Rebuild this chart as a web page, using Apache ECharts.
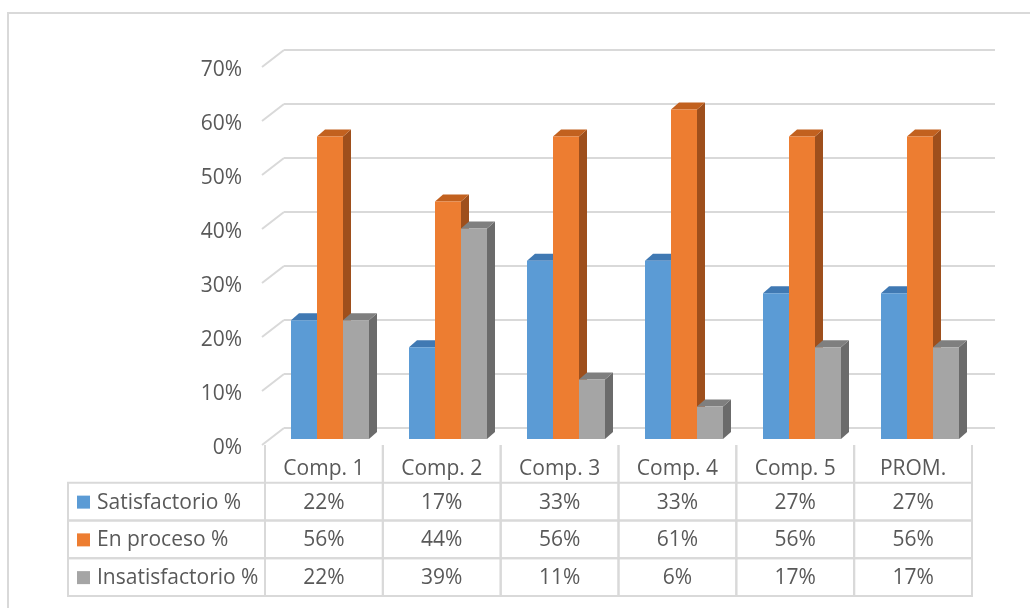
<!DOCTYPE html>
<html>
<head>
<meta charset="utf-8">
<script src="https://cdn.jsdelivr.net/npm/echarts@6/dist/echarts.min.js"></script>
<style>
  html, body { margin: 0; padding: 0; background: #fff; }
  #chart { width: 1030px; height: 608px; }
</style>
</head>
<body>
<div id="chart"></div>
<script>
// datos
const categories = ['Comp. 1', 'Comp. 2', 'Comp. 3', 'Comp. 4', 'Comp. 5', 'PROM.']
const seriesNames = ['Satisfactorio %', 'En proceso %', 'Insatisfactorio %']
const satisfactorio = [0.22, 0.17, 0.33, 0.33, 0.27, 0.27]
const enProceso = [0.56, 0.44, 0.56, 0.61, 0.56, 0.56]
const insatisfactorio = [0.22, 0.39, 0.11, 0.06, 0.17, 0.17]
const yTicks = [0, 0.1, 0.2, 0.3, 0.4, 0.5, 0.6, 0.7]

const seriesValues = [satisfactorio, enProceso, insatisfactorio]
// front / top / side colours per series
const palette = [
  { front: '#5b9bd5', top: '#4079b3', side: '#41719c' },
  { front: '#ed7d31', top: '#c2611f', side: '#9e4f1c' },
  { front: '#a5a5a5', top: '#7f7f7f', side: '#6b6b6b' }
]

const FONT = 'Open Sans'
const FS = 21
const TXT = '#595959'
const LINE = '#d9d9d9'
const BAR_W = 26, DX = 8, DY = 7        // bar width and 3D depth offset
const WALL_DX = 22, WALL_DY = 17       // side wall offset of gridlines
const LABEL_COL_W = 197                // width of the row-name column

function pct(v) { return Math.round(v * 100) + '%' }

function barSeries(si) {
  const vals = seriesValues[si]
  const col = palette[si]
  return {
    type: 'custom',
    xAxisIndex: 2, yAxisIndex: 2,
    data: vals.map((v, i) => [i, v]),
    renderItem(params, api) {
      const top = api.coord([api.value(0), api.value(1)])
      const base = api.coord([api.value(0), 0])
      const x = top[0] - BAR_W * 1.5 + si * BAR_W
      const yT = top[1], yB = base[1]
      return {
        type: 'group',
        children: [
          { type: 'polygon', shape: { points: [[x + BAR_W, yT], [x + BAR_W + DX, yT - DY], [x + BAR_W + DX, yB - DY], [x + BAR_W, yB]] }, style: { fill: col.side } },
          { type: 'polygon', shape: { points: [[x, yT], [x + DX, yT - DY], [x + BAR_W + DX, yT - DY], [x + BAR_W, yT]] }, style: { fill: col.top } },
          { type: 'rect', shape: { x: x, y: yT, width: BAR_W, height: yB - yT }, style: { fill: col.front } }
        ]
      }
    }
  }
}

// celdas de la tabla de datos
const tableCells = []
categories.forEach((c, i) => tableCells.push({ col: i, row: 0, text: c, kind: 'head' }))
seriesNames.forEach((n, s) => {
  tableCells.push({ col: 0, row: s + 1, text: n, kind: 'label', color: palette[s].front })
  seriesValues[s].forEach((v, i) => tableCells.push({ col: i, row: s + 1, text: pct(v), kind: 'cell' }))
})

function textEl(text, x, y, align) {
  return { type: 'text', style: { text, x, y, align: align || 'center', verticalAlign: 'middle', fontSize: FS, fontFamily: FONT, fill: TXT } }
}

const option = {
  animation: false,
  graphic: [{
    type: 'rect', silent: true, z: -10,
    shape: { x: 8, y: 13, width: 1100, height: 700 },
    style: { fill: 'none', stroke: LINE, lineWidth: 2 }
  }],
  grid: [
    { left: 284, top: 50, width: 711, height: 378 },   // back wall
    { left: 263, top: 70, width: 700, height: 378 },   // tick labels (front)
    { left: 271, top: 61, width: 708, height: 378 },   // bars front plane
    { left: 265, top: 445, width: 707, height: 151 }   // data table
  ],
  xAxis: [0, 1, 2, 3].map(g => ({ type: 'category', gridIndex: g, data: categories, show: false })),
  yAxis: [
    { type: 'value', gridIndex: 0, min: 0, max: 0.7, interval: 0.1,
      axisLabel: { show: false }, axisLine: { show: false }, axisTick: { show: false },
      splitLine: { show: true, lineStyle: { color: LINE, width: 2 } } },
    { type: 'value', gridIndex: 1, min: 0, max: 0.7, interval: 0.1,
      axisLine: { show: false }, axisTick: { show: false }, splitLine: { show: false },
      axisLabel: { formatter: pct, margin: 21, fontSize: FS, fontFamily: FONT, color: TXT } },
    { type: 'value', gridIndex: 2, min: 0, max: 0.7, show: false, splitLine: { show: false } },
    { type: 'category', gridIndex: 3, data: ['head'].concat(seriesNames), inverse: true, show: false }
  ],
  series: [
    {
      // diagonales de la pared lateral
      type: 'custom',
      xAxisIndex: 0, yAxisIndex: 0,
      data: yTicks.map(v => [0, v]),
      renderItem(params, api) {
        const y = api.coord([0, api.value(1)])[1]
        const x0 = params.coordSys.x
        return { type: 'line', shape: { x1: x0 - WALL_DX, y1: y + WALL_DY, x2: x0, y2: y }, style: { stroke: LINE, lineWidth: 2 } }
      }
    },
    barSeries(0),
    barSeries(1),
    barSeries(2),
    {
      type: 'custom',
      xAxisIndex: 3, yAxisIndex: 3,
      data: tableCells.map(c => [c.col, c.row]),
      renderItem(params, api) {
        const cell = tableCells[params.dataIndex]
        const c = api.coord([api.value(0), api.value(1)])
        const sz = api.size([1, 1])
        const l = c[0] - sz[0] / 2, t = c[1] - sz[1] / 2
        const lineStyle = { stroke: LINE, lineWidth: 2, fill: 'none' }
        if (cell.kind === 'head') {
          return { type: 'group', children: [
            { type: 'line', shape: { x1: l, y1: t, x2: l, y2: t + sz[1] }, style: lineStyle },
            { type: 'line', shape: { x1: l + sz[0], y1: t, x2: l + sz[0], y2: t + sz[1] }, style: lineStyle },
            textEl(cell.text, c[0], c[1] + 5)
          ] }
        }
        if (cell.kind === 'label') {
          const ll = l - LABEL_COL_W
          return { type: 'group', children: [
            { type: 'rect', shape: { x: ll, y: t, width: LABEL_COL_W, height: sz[1] }, style: lineStyle },
            { type: 'rect', shape: { x: ll + 9, y: c[1] - 6, width: 13, height: 13 }, style: { fill: cell.color } },
            textEl(cell.text, ll + 29, c[1] + 1, 'left')
          ] }
        }
        return { type: 'group', children: [
          { type: 'rect', shape: { x: l, y: t, width: sz[0], height: sz[1] }, style: lineStyle },
          textEl(cell.text, c[0], c[1] + 1)
        ] }
      }
    }
  ]
}

const chart = echarts.init(document.getElementById('chart'))
chart.setOption(option)
window.addEventListener('resize', () => chart.resize())
</script>
</body>
</html>
